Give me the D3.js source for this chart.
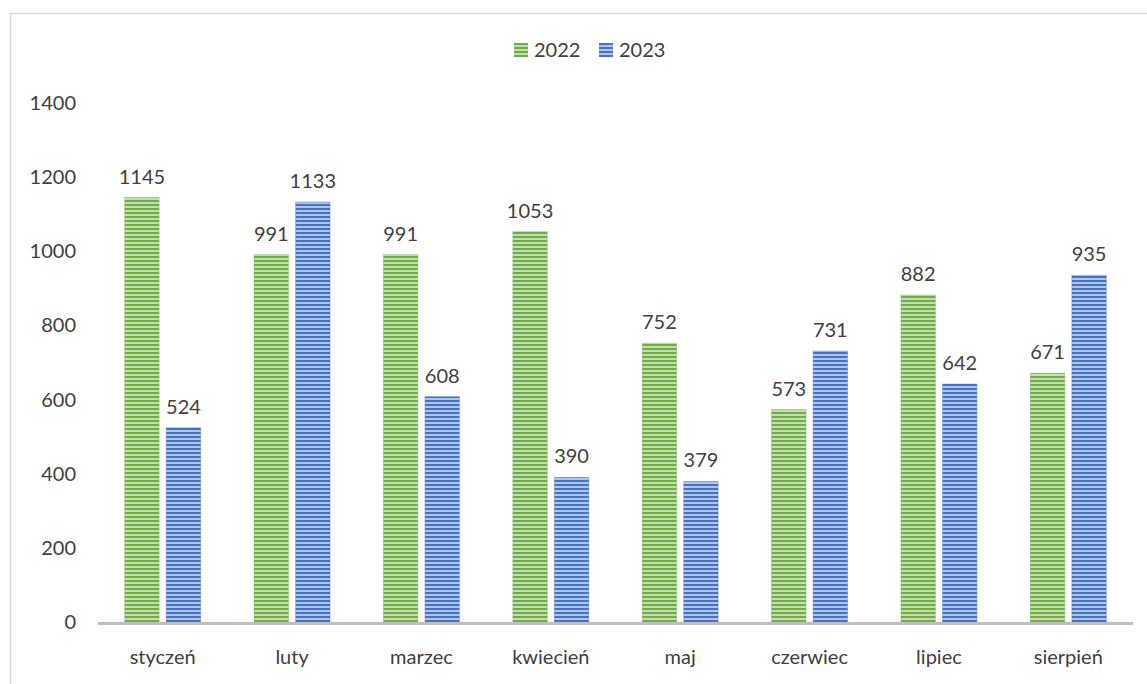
<!DOCTYPE html>
<html>
<head>
<meta charset="utf-8">
<script src="https://cdn.jsdelivr.net/npm/d3@7"></script>
<style>
  body { margin: 0; background: #fff; }
  text { font-family: Lato, "Liberation Sans", sans-serif; fill: #404040; }
</style>
</head>
<body>
<svg width="1147" height="684"></svg>
<script>
var months = ["styczeń", "luty", "marzec", "kwiecień", "maj", "czerwiec", "lipiec", "sierpień"];
var years = ["2022", "2023"];
var v2022 = [1145, 991, 991, 1053, 752, 573, 882, 671];
var v2023 = [524, 1133, 608, 390, 379, 731, 642, 935];
var yTicks = [0, 200, 400, 600, 800, 1000, 1200, 1400];

var colors = {
  "2022": { dark: "#70ad47", light: "#c2e0ad" },
  "2023": { dark: "#4472c4", light: "#afc5ec" }
};

var svg = d3.select("svg");

// chart frame
svg.append("rect")
  .attr("x", 10.5).attr("y", 13.5)
  .attr("width", 1150).attr("height", 700)
  .attr("fill", "none")
  .attr("stroke", "#d9d9d9")
  .attr("stroke-width", 1.5);

// striped fills
var defs = svg.append("defs");
years.forEach(function(yr) {
  var p = defs.append("pattern")
    .attr("id", "stripe" + yr)
    .attr("patternUnits", "userSpaceOnUse")
    .attr("width", 8).attr("height", 4);
  p.append("rect").attr("width", 8).attr("height", 4).attr("fill", colors[yr].light);
  p.append("rect").attr("width", 8).attr("height", 2).attr("fill", colors[yr].dark);
});

var x0 = d3.scaleBand().domain(months).range([98, 1133]).padding(0);
var half = 38;
var x1 = d3.scaleBand().domain(years)
  .range([x0.bandwidth() / 2 - half, x0.bandwidth() / 2 + half])
  .paddingInner(0.17);
var y = d3.scaleLinear().domain([0, 1400]).range([622, 103]);

var rows = months.map(function(m, i) {
  return { month: m, values: [
    { year: "2022", value: v2022[i] },
    { year: "2023", value: v2023[i] }
  ]};
});

// y tick labels
svg.append("g").selectAll("text")
  .data(yTicks)
  .enter().append("text")
    .attr("x", 76)
    .attr("y", function(d) { return y(d); })
    .attr("dy", "0.35em")
    .attr("text-anchor", "end")
    .attr("font-size", 20)
    .text(function(d) { return d; });

var groups = svg.append("g").selectAll("g")
  .data(rows)
  .enter().append("g")
    .attr("transform", function(d) { return "translate(" + x0(d.month) + ",0)"; });

groups.selectAll("rect")
  .data(function(d) { return d.values; })
  .enter().append("rect")
    .attr("x", function(d) { return x1(d.year); })
    .attr("y", function(d) { return y(d.value); })
    .attr("width", x1.bandwidth())
    .attr("height", function(d) { return y(0) - y(d.value); })
    .attr("fill", function(d) { return "url(#stripe" + d.year + ")"; })
    .attr("stroke", function(d) { return colors[d.year].dark; })
    .attr("stroke-opacity", 0.35)
    .attr("stroke-width", 1);

groups.selectAll("text.val")
  .data(function(d) { return d.values; })
  .enter().append("text")
    .attr("class", "val")
    .attr("x", function(d) { return x1(d.year) + x1.bandwidth() / 2; })
    .attr("y", function(d) { return y(d.value) - 14; })
    .attr("text-anchor", "middle")
    .attr("font-size", 20)
    .text(function(d) { return d.value; });

// x axis line
svg.append("line")
  .attr("x1", 98).attr("x2", 1133)
  .attr("y1", y(0) + 1.5).attr("y2", y(0) + 1.5)
  .attr("stroke", "#bfbfbf")
  .attr("stroke-width", 3);

// category labels
svg.append("g").selectAll("text")
  .data(months)
  .enter().append("text")
    .attr("x", function(d) { return x0(d) + x0.bandwidth() / 2; })
    .attr("y", 664)
    .attr("text-anchor", "middle")
    .attr("font-size", 20)
    .text(function(d) { return d; });

// legend
var legend = svg.append("g").attr("transform", "translate(514,43)");
var legendX = [0, 85];
years.forEach(function(yr, i) {
  var lg = legend.append("g").attr("transform", "translate(" + legendX[i] + ",0)");
  lg.append("rect")
    .attr("width", 14).attr("height", 14)
    .attr("fill", "url(#stripe" + yr + ")");
  lg.append("text")
    .attr("x", 20).attr("y", 7)
    .attr("dy", "0.35em")
    .attr("font-size", 20)
    .text(yr);
});
</script>
</body>
</html>
